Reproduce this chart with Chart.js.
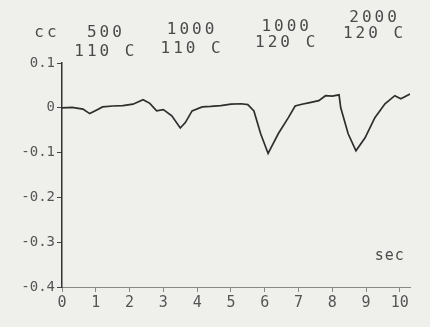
<!DOCTYPE html>
<html>
<head>
<meta charset="utf-8">
<script src="https://cdn.jsdelivr.net/npm/chart.js@4"></script>
<style>
  html, body { margin: 0; padding: 0; background: #efefec; }
  #wrap { width: 430px; height: 327px; position: relative; }
</style>
</head>
<body>
<div id="wrap"><canvas id="c"></canvas></div>
<script>
const tiempo = [0, 0.3, 0.62, 0.82, 1.0, 1.2, 1.5, 1.8, 2.1, 2.4, 2.6, 2.8, 3.0, 3.25, 3.5, 3.65, 3.85, 4.15, 4.4, 4.7, 5.0, 5.3, 5.5, 5.68, 5.88, 6.1, 6.25, 6.4, 6.7, 6.9, 7.1, 7.3, 7.6, 7.8, 8.0, 8.2, 8.25, 8.47, 8.7, 8.97, 9.26, 9.56, 9.85, 10.03, 10.3];
const senal  = [0, 0.001, -0.003, -0.013, -0.006, 0.002, 0.004, 0.005, 0.008, 0.018, 0.01, -0.007, -0.004, -0.018, -0.045, -0.033, -0.007, 0.002, 0.003, 0.005, 0.008, 0.009, 0.007, -0.007, -0.058, -0.102, -0.08, -0.058, -0.022, 0.004, 0.008, 0.011, 0.016, 0.027, 0.026, 0.029, 0, -0.058, -0.096, -0.067, -0.022, 0.009, 0.027, 0.02, 0.031];

const xTicks = [0, 1, 2, 3, 4, 5, 6, 7, 8, 9, 10];
const yTicks = [0.1, 0, -0.1, -0.2, -0.3, -0.4];

// anotaciones de arriba (cc / temperatura)
const notaX  = [1.3, 3.85, 6.65, 9.25];
const nota1  = ["500", "1000", "1000", "2000"];
const nota2  = ["110 C", "110 C", "120 C", "120 C"];

const fuente = "'DejaVu Sans Mono', monospace";

const notas = {
  id: "notas",
  afterDraw(chart) {
    const ctx = chart.ctx;
    const x = chart.scales.x;
    const y1 = [33, 30, 27, 18];
    const y2 = [52, 49, 43, 34];
    ctx.save();
    ctx.fillStyle = "#4a4a4a";
    ctx.font = "16px " + fuente;
    ctx.letterSpacing = "3px";
    ctx.textAlign = "center";
    ctx.textBaseline = "middle";
    ctx.fillText("cc", 47, 33);
    notaX.forEach((v, i) => {
      const px = x.getPixelForValue(v);
      ctx.fillText(nota1[i], px, y1[i]);
      ctx.fillText(nota2[i], px, y2[i]);
    });
    ctx.font = "15px " + fuente;
    ctx.letterSpacing = "1px";
    ctx.fillText("sec", x.getPixelForValue(9.7), 256);
    ctx.restore();
  }
};

new Chart(document.getElementById("c"), {
  type: "line",
  data: {
    datasets: [{
      data: tiempo.map((t, i) => ({ x: t, y: senal[i] })),
      borderColor: "#2e2e2e",
      borderWidth: 1.7,
      pointRadius: 0,
      tension: 0
    }]
  },
  options: {
    responsive: true,
    maintainAspectRatio: false,
    animation: false,
    layout: { padding: { top: 63, right: 20, left: 0, bottom: 0 } },
    plugins: { legend: { display: false }, tooltip: { enabled: false } },
    scales: {
      x: {
        type: "linear",
        min: 0, max: 10.3,
        afterBuildTicks: s => { s.ticks = xTicks.map(v => ({ value: v })); },
        afterFit: s => { s.height = 40; },
        ticks: { autoSkip: false, color: "#555", font: { family: fuente, size: 15 }, padding: 2, maxRotation: 0 },
        grid: { drawOnChartArea: false, tickLength: 5, color: "#888" },
        border: { color: "#888", dash: [2, 2], width: 1 }
      },
      y: {
        min: -0.4, max: 0.1,
        afterBuildTicks: s => { s.ticks = yTicks.map(v => ({ value: v })); },
        afterFit: s => { s.width = 62; },
        ticks: { color: "#555", font: { family: fuente, size: 14 }, padding: 2,
                 callback: v => v === 0 ? "0" : String(Math.round(v * 10) / 10) },
        grid: { drawOnChartArea: false, tickLength: 5, color: "#444" },
        border: { color: "#333", width: 1.5 }
      }
    }
  },
  plugins: [notas]
});
</script>
</body>
</html>
